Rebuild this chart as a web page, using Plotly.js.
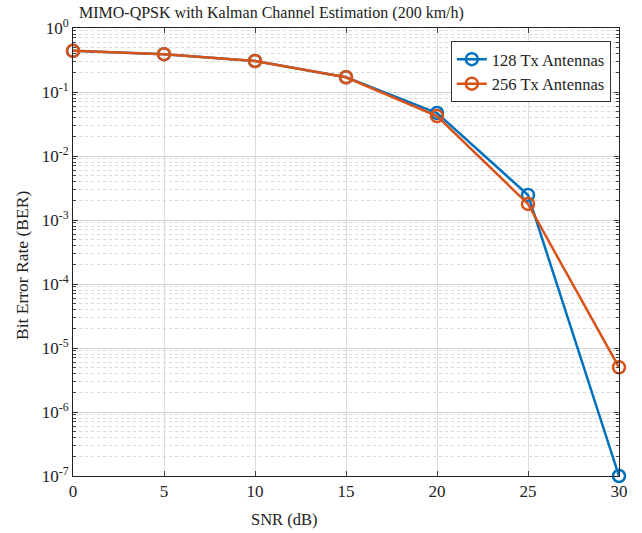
<!DOCTYPE html>
<html>
<head>
<meta charset="utf-8">
<script src="https://cdn.plot.ly/plotly-3.0.1.min.js"></script>
<style>html,body{margin:0;padding:0;background:#fff;}#chart{width:642px;height:533px;}</style>
</head>
<body>
<div id="chart"></div>
<script>
const snr = [0, 5, 10, 15, 20, 25, 30];
const ber128 = [0.44, 0.39, 0.305, 0.17, 0.047, 0.00246, 1e-7];
const ber256 = [0.44, 0.39, 0.305, 0.17, 0.042, 0.00178, 5.0e-6];
const seriesNames = ['128 Tx Antennas', '256 Tx Antennas'];
const xTicks = [0, 5, 10, 15, 20, 25, 30];
const yTickVals = [1, 1e-1, 1e-2, 1e-3, 1e-4, 1e-5, 1e-6, 1e-7];
const yTickText = ['10<sup>0</sup>', '10<sup>-1</sup>', '10<sup>-2</sup>', '10<sup>-3</sup>', '10<sup>-4</sup>', '10<sup>-5</sup>', '10<sup>-6</sup>', '10<sup>-7</sup>'];
const minorDigits = [2, 3, 4, 5, 6, 7, 8, 9];
const decades = [-7, -6, -5, -4, -3, -2, -1];

const minorVals = [];
decades.forEach(d => minorDigits.forEach(m => minorVals.push(m * Math.pow(10, d))));

const font = 'Liberation Serif, Times New Roman, serif';
const blue = '#0072BD', orange = '#D95319';

const traces = [
  {x: snr, y: ber128, name: seriesNames[0], type: 'scatter', mode: 'lines+markers', cliponaxis: false,
   line: {color: blue, width: 2.5},
   marker: {symbol: 'circle-open', size: 12, color: blue, line: {width: 2.5, color: blue}}},
  {x: snr, y: ber256, name: seriesNames[1], type: 'scatter', mode: 'lines+markers', cliponaxis: false,
   line: {color: orange, width: 2.5},
   marker: {symbol: 'circle-open', size: 12, color: orange, line: {width: 2.5, color: orange}}}
];

const layout = {
  width: 642, height: 533,
  margin: {l: 73, r: 23, t: 28, b: 57},
  paper_bgcolor: '#fff', plot_bgcolor: '#fff',
  font: {family: font, size: 16, color: '#222'},
  showlegend: true,
  legend: {x: 0.985, y: 0.971, xanchor: 'right', yanchor: 'top',
    bgcolor: '#fff', bordercolor: '#333', borderwidth: 1,
    font: {family: font, size: 16.5, color: '#222'}, tracegroupgap: 0},
  xaxis: {range: [0, 30], tickvals: xTicks, ticks: 'inside', ticklen: 5,
    showline: true, linecolor: '#222', linewidth: 1, mirror: 'ticks',
    showgrid: true, gridcolor: '#dcdcdc', gridwidth: 1, zeroline: false,
    tickfont: {family: font, size: 17, color: '#222'}},
  yaxis: {type: 'log', range: [-7, 0], tickvals: yTickVals, ticktext: yTickText,
    ticks: 'inside', ticklen: 5,
    showline: true, linecolor: '#222', linewidth: 1, mirror: 'ticks',
    showgrid: true, gridcolor: '#d4d4d4', gridwidth: 1, zeroline: false,
    tickfont: {family: font, size: 17, color: '#222'},
    minor: {tickmode: 'array', tickvals: minorVals, ticks: 'inside', ticklen: 3, tickcolor: '#444',
      showgrid: true, gridcolor: '#dadada', griddash: 'dot', gridwidth: 1}},
  annotations: [
    {text: 'MIMO-QPSK with Kalman Channel Estimation (200 km/h)', xref: 'paper', yref: 'paper',
     x: (271 - 73) / 546, y: (476 - 13) / 448, xanchor: 'center', yanchor: 'middle', showarrow: false,
     font: {family: font, size: 16, color: '#222'}},
    {text: 'SNR (dB)', xref: 'paper', yref: 'paper',
     x: (284 - 73) / 546, y: (476 - 519) / 448, xanchor: 'center', yanchor: 'middle', showarrow: false,
     font: {family: font, size: 16.5, color: '#222'}},
    {text: 'Bit Error Rate (BER)', xref: 'paper', yref: 'paper', textangle: -90,
     x: (22 - 73) / 546, y: (476 - 266) / 448, xanchor: 'center', yanchor: 'middle', showarrow: false,
     font: {family: font, size: 17.5, color: '#222'}}
  ]
};

Plotly.newPlot('chart', traces, layout, {displayModeBar: false, staticPlot: true});
</script>
</body>
</html>
